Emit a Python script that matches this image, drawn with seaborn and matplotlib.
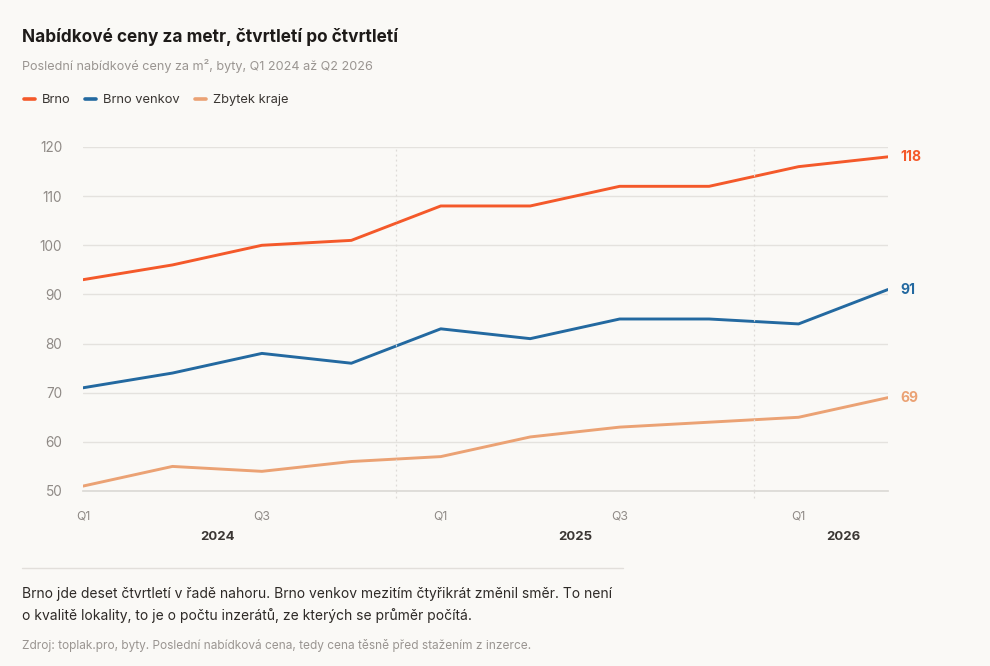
import matplotlib
matplotlib.use("Agg")
import matplotlib.pyplot as plt
import matplotlib.transforms as mtransforms
from matplotlib.lines import Line2D
import seaborn as sns
import pandas as pd

quarters = ["Q1 2024", "Q2 2024", "Q3 2024", "Q4 2024", "Q1 2025",
            "Q2 2025", "Q3 2025", "Q4 2025", "Q1 2026", "Q2 2026"]
brno = [93, 96, 100, 101, 108, 108, 112, 112, 116, 118]
brno_venkov = [71, 74, 78, 76, 83, 81, 85, 85, 84, 91]
zbytek_kraje = [51, 55, 54, 56, 57, 61, 63, 64, 65, 69]
series_names = ["Brno", "Brno venkov", "Zbytek kraje"]
colors = ["#f4592a", "#2369a0", "#eba274"]
quarter_ticks = ["Q1", "Q3", "Q1", "Q3", "Q1"]
years = ["2024", "2025", "2026"]

BG = "#faf9f6"
sns.set_theme(style="white")
plt.rcParams["font.family"] = ["Inter", "DejaVu Sans"]

rows = []
for name, vals in zip(series_names, [brno, brno_venkov, zbytek_kraje]):
    for i, v in enumerate(vals):
        rows.append({"idx": i, "value": v, "series": name})
df = pd.DataFrame(rows)

fig = plt.figure(figsize=(9.9, 6.66), dpi=100, facecolor=BG)
ax = fig.add_axes([83/990, 1-491/666, (888-83)/990, (491-147)/666])
ax.set_facecolor(BG)

sns.lineplot(data=df, x="idx", y="value", hue="series", palette=colors,
             hue_order=series_names, linewidth=2.1, ax=ax, legend=False)

ax.set_xlim(0, len(quarters)-1)
ax.set_ylim(50, 120)
ax.set_yticks(range(50, 121, 10))
ax.yaxis.grid(True, color="#e4e2de", linewidth=1)
ax.set_axisbelow(True)
for s in ax.spines.values():
    s.set_visible(False)
ax.spines["bottom"].set_visible(True)
ax.spines["bottom"].set_color("#dcdad6")
ax.set_xlabel("")
ax.set_ylabel("")
ax.tick_params(axis="y", length=0, pad=15, labelsize=9.8, labelcolor="#8f8a86")
ax.set_xticks([0, 2, 4, 6, 8])
ax.set_xticklabels(quarter_ticks)
ax.tick_params(axis="x", length=0, pad=14, labelsize=8.8, labelcolor="#8f8a86")

# year separators
for xsep in [3.5, 7.5]:
    ax.plot([xsep, xsep], [0, 1.0], transform=mtransforms.blended_transform_factory(ax.transData, ax.transAxes),
            color="#dedbd7", linewidth=0.9, linestyle=(0, (1.5, 2.5)), clip_on=False)
    ax.plot([xsep, xsep], [-0.02, 0], transform=mtransforms.blended_transform_factory(ax.transData, ax.transAxes),
            color="#dedbd7", linewidth=0.9, linestyle=(0, (1.5, 2.5)), clip_on=False)

# year labels
trans = mtransforms.blended_transform_factory(ax.transData, ax.transAxes)
year_pos = [1.5, 5.5, 8.5]
for yx, yl in zip(year_pos, years):
    ax.text(yx, -46/344, yl, transform=trans, ha="center", va="center",
            fontsize=9.5, fontweight="bold", color="#3a3633")

# end labels
for name, vals, c in zip(series_names, [brno, brno_venkov, zbytek_kraje], colors):
    ax.annotate(str(vals[-1]), xy=(len(vals)-1, vals[-1]), xytext=(9, 0),
                textcoords="offset points", ha="left", va="center",
                fontsize=10, fontweight="bold", color=c, annotation_clip=False)

# title, subtitle
fig.text(22/990, 1-37/666, "Nabídkové ceny za metr, čtvrtletí po čtvrtletí",
         fontsize=12.4, fontweight="bold", color="#1e1b19", va="center", ha="left")
fig.text(22/990, 1-66/666, "Poslední nabídkové ceny za m², byty, Q1 2024 až Q2 2026",
         fontsize=9.1, color="#9a9591", va="center", ha="left")

# legend
handles = [Line2D([0], [0], color=c, linewidth=2.6) for c in colors]
leg = fig.legend(handles, series_names, loc="center left",
                 bbox_to_anchor=(12/990, 1-100/666), ncol=3, frameon=False,
                 fontsize=9.3, handlelength=0.85, handletextpad=0.55,
                 columnspacing=1.15, labelcolor="#3a3633")

# footer separator
fig.add_artist(Line2D([22/990, 623/990], [1-568/666, 1-568/666],
                      color="#e2dfdb", linewidth=1, transform=fig.transFigure))
fig.text(22/990, 1-594/666,
         "Brno jde deset čtvrtletí v řadě nahoru. Brno venkov mezitím čtyřikrát změnil směr. To není",
         fontsize=10, color="#2e2a27", va="center", ha="left")
fig.text(22/990, 1-616/666,
         "o kvalitě lokality, to je o počtu inzerátů, ze kterých se průměr počítá.",
         fontsize=10, color="#2e2a27", va="center", ha="left")
fig.text(22/990, 1-645/666,
         "Zdroj: toplak.pro, byty. Poslední nabídková cena, tedy cena těsně před stažením z inzerce.",
         fontsize=8.55, color="#9a9591", va="center", ha="left")

fig.savefig("out.png", dpi=100, facecolor=BG)
